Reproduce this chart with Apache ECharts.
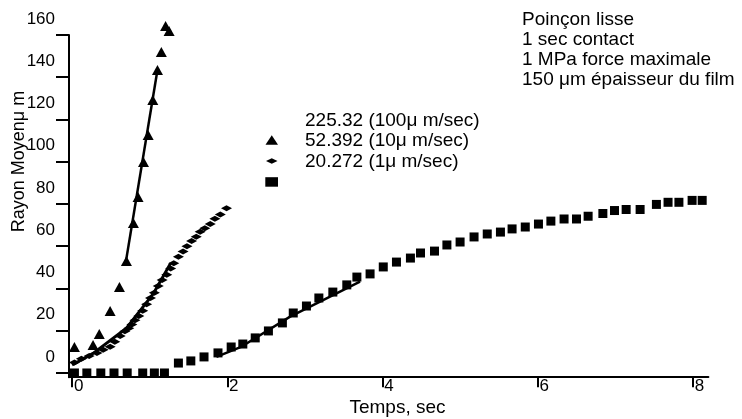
<!DOCTYPE html>
<html>
<head>
<meta charset="utf-8">
<script src="https://cdn.jsdelivr.net/npm/echarts@6/dist/echarts.min.js"></script>
<style>html,body{margin:0;padding:0;background:#fff}#c{width:742px;height:419px}</style>
</head>
<body>
<div id="c"></div>
<script>
// ---- data ----
const seriesNames = ['225.32 (100\u03bc m/sec)', '52.392 (10\u03bc m/sec)', '20.272 (1\u03bc m/sec)'];

// 100 um/sec (triangles)
const triT = [0.03, 0.27, 0.35, 0.49, 0.61, 0.70, 0.79, 0.85, 0.92, 0.98, 1.04, 1.10, 1.15, 1.205, 1.25];
const triV = [12.3, 13.3, 18.5, 29.3, 40.7, 53.0, 71.0, 83.3, 99.9, 112.7, 129.2, 143.4, 152.0, 164.3, 161.9];
const triFitT = [0.69, 1.10];
const triFitV = [52.0, 143.4];

// 10 um/sec (flat diamonds)
const diaT = [0.03, 0.12, 0.22, 0.32, 0.40, 0.49, 0.55, 0.62, 0.68, 0.73, 0.77, 0.81, 0.86, 0.91, 0.96, 1.01, 1.06, 1.11, 1.16, 1.22, 1.27, 1.31, 1.37, 1.43, 1.48, 1.54, 1.60, 1.65, 1.71, 1.78, 1.84, 1.91, 1.99];
const diaV = [5.0, 6.7, 8.0, 9.5, 11.0, 12.4, 14.8, 17.5, 19.8, 21.2, 22.9, 25.0, 27.0, 29.4, 32.5, 35.5, 38.0, 41.2, 44.0, 46.5, 49.5, 52.0, 55.0, 57.5, 60.0, 62.5, 64.5, 66.8, 68.5, 70.5, 73.0, 75.0, 78.0];
const diaFitT = [0.0, 0.27, 0.70, 1.05, 1.27];
const diaFitV = [3.8, 9.3, 21.2, 37.7, 52.0];

// 1 um/sec (squares)
const sqT = [0.03, 0.19, 0.37, 0.54, 0.71, 0.91, 1.06, 1.19, 1.37, 1.53, 1.70, 1.88, 2.05, 2.20, 2.36, 2.53, 2.71, 2.85, 3.02, 3.18, 3.36, 3.54, 3.67, 3.84, 4.01, 4.18, 4.36, 4.49, 4.67, 4.83, 5.00, 5.18, 5.35, 5.52, 5.67, 5.84, 6.01, 6.17, 6.34, 6.50, 6.65, 6.84, 6.99, 7.14, 7.32, 7.53, 7.68, 7.82, 7.99, 8.12];
const sqV = [0, 0, 0, 0, 0, 0, 0, 0, 4.7, 5.7, 7.6, 9.5, 12.3, 13.7, 16.6, 19.9, 23.7, 28.4, 31.7, 35.5, 38.3, 41.7, 45.4, 46.9, 50.2, 52.5, 54.4, 56.8, 57.7, 60.6, 62.0, 64.4, 65.8, 66.7, 68.2, 69.1, 70.5, 71.9, 72.9, 72.9, 74.2, 75.5, 76.9, 77.4, 77.4, 79.8, 80.8, 80.8, 81.7, 81.7];
const sqFitT = [1.86, 2.17, 2.81, 3.71];
const sqFitV = [7.6, 12.2, 26.7, 43.2];

const xTicks = [0, 2, 4, 6, 8];
const yTicks = [0, 20, 40, 60, 80, 100, 120, 140, 160];
const xTitle = 'Temps, sec';
const yTitle = 'Rayon Moyen\u03bc m';
const notes = ['Poin\u00e7on lisse', '1 sec contact', '1 MPa force maximale', '150 \u03bcm \u00e9paisseur du film'];

// ---- chart ----
const FF = '"Liberation Sans", Arial, sans-serif';
const pairs = (a, b) => a.map((t, i) => [t, b[i]]);
const black = '#000';

const chart = echarts.init(document.getElementById('c'), null, {renderer: 'canvas'});
chart.setOption({
  backgroundColor: '#fff',
  animation: false,
  grid: {left: 69, right: 33.6, top: 35, bottom: 41.8, containLabel: false},
  xAxis: {
    type: 'value', min: -0.04, max: 8.2,
    axisLine: {show: true, onZero: false, lineStyle: {color: black, width: 2}},
    axisTick: {show: true, customValues: xTicks, length: 10, lineStyle: {color: black, width: 2}},
    axisLabel: {customValues: xTicks, color: black, fontSize: 17, fontFamily: FF, margin: 1, padding: [0, 0, 0, 13]},
    splitLine: {show: false}
  },
  yAxis: {
    type: 'value', min: -2, max: 160,
    axisLine: {show: true, onZero: false, lineStyle: {color: black, width: 2}},
    axisTick: {show: true, customValues: yTicks, length: 13, lineStyle: {color: black, width: 2}},
    axisLabel: {customValues: yTicks, color: black, fontSize: 17, fontFamily: FF, margin: 14,
                verticalAlign: 'bottom', lineHeight: 32},
    splitLine: {show: false}
  },
  legend: [
    {data: [{name: seriesNames[0], icon: 'triangle'}], left: 265.5, top: 135.2, padding: 0, itemWidth: 12.5, itemHeight: 9.5,
     formatter: () => '', textStyle: {fontSize: 1}, selectedMode: false},
    {data: [{name: seriesNames[1], icon: 'diamond'}], left: 266, top: 158.3, padding: 0, itemWidth: 11.5, itemHeight: 5.5,
     formatter: () => '', textStyle: {fontSize: 1}, selectedMode: false},
    {data: [{name: seriesNames[2], icon: 'rect'}], left: 265.3, top: 177.2, padding: 0, itemWidth: 12.7, itemHeight: 9.5,
     formatter: () => '', textStyle: {fontSize: 1}, selectedMode: false},
    {data: seriesNames, orient: 'vertical', left: 300, top: 110.5, padding: 0, itemWidth: 0, itemHeight: 0, itemGap: 0,
     itemStyle: {opacity: 0}, textStyle: {color: black, fontSize: 19, fontFamily: FF, lineHeight: 20.5}, selectedMode: false}
  ],
  graphic: [
    {type: 'text', left: 522, top: 9.7, silent: true,
     style: {text: notes.join('\n'), fill: black, fontSize: 19, fontFamily: FF, lineHeight: 20}},
    {type: 'text', x: 397.5, y: 408, silent: true,
     style: {text: xTitle, fill: black, fontSize: 19, fontFamily: FF, align: 'center', verticalAlign: 'middle'}},
    {type: 'text', x: 19, y: 161.5, rotation: Math.PI / 2, silent: true,
     style: {text: yTitle, fill: black, fontSize: 18, fontFamily: FF, align: 'center', verticalAlign: 'middle'}}
  ],
  series: [
    {name: 'fit100', type: 'line', data: pairs(triFitT, triFitV), symbol: 'none', silent: true, clip: false,
     lineStyle: {color: black, width: 2.5}, z: 2},
    {name: 'fit10', type: 'line', data: pairs(diaFitT, diaFitV), symbol: 'none', silent: true, clip: false,
     lineStyle: {color: black, width: 3}, z: 2},
    {name: 'fit1', type: 'line', data: pairs(sqFitT, sqFitV), symbol: 'none', silent: true, clip: false,
     lineStyle: {color: black, width: 2.5}, z: 2},
    {name: seriesNames[0], type: 'scatter', data: pairs(triT, triV), symbol: 'triangle', symbolSize: [11, 10],
     itemStyle: {color: black, opacity: 1}, clip: false, z: 3},
    {name: seriesNames[1], type: 'scatter', data: pairs(diaT, diaV), symbol: 'diamond', symbolSize: [11, 6],
     itemStyle: {color: black, opacity: 1}, clip: false, z: 3},
    {name: seriesNames[2], type: 'scatter', data: pairs(sqT, sqV), symbol: 'rect', symbolSize: 9,
     itemStyle: {color: black, opacity: 1}, clip: false, z: 3}
  ]
});
</script>
</body>
</html>
